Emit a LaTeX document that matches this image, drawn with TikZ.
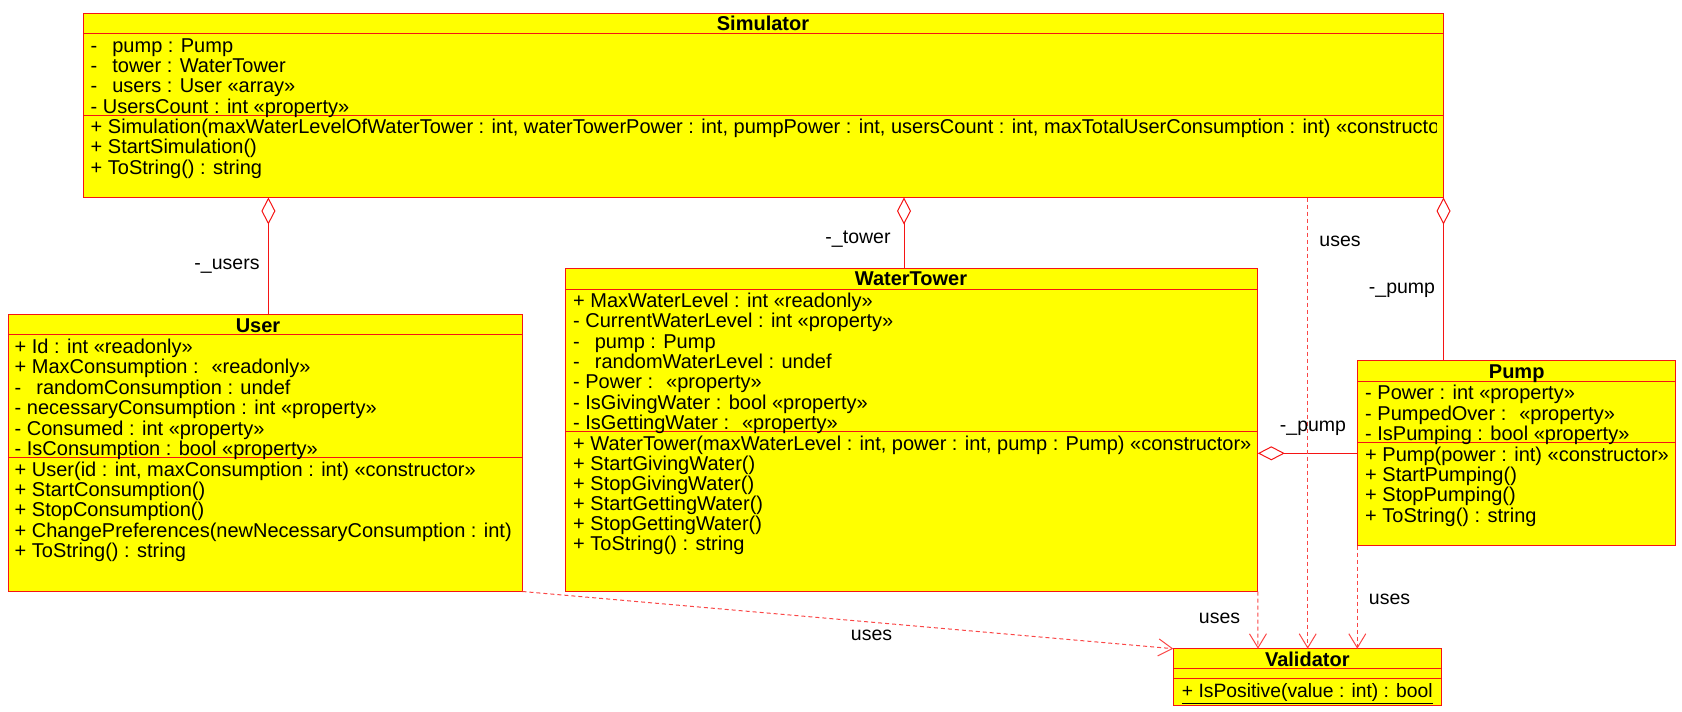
\documentclass[tikz,border=0pt]{standalone}
\usepackage{fontspec}
\setmainfont{Liberation Sans}
\usetikzlibrary{arrows.meta}
\definecolor{umlred}{RGB}{245,20,20}
\definecolor{dashred}{RGB}{250,70,70}
\definecolor{umlyellow}{RGB}{255,255,0}
\tikzset{
  classbox/.style={draw=umlred, fill=umlyellow, line width=1pt, rectangle, inner sep=0pt, outer sep=0pt, anchor=north west},
  sepline/.style={draw=umlred, line width=1pt},
  txt/.style={inner sep=0pt, anchor=base west, font=\fontsize{20}{20}\selectfont},
  ttl/.style={inner sep=0pt, anchor=base, font=\fontsize{20}{20}\selectfont\bfseries},
  lbl/.style={inner sep=0pt, anchor=center, font=\fontsize{19.5}{20}\selectfont},
  agg/.style={draw=umlred, line width=1pt, {Diamond[open, length=27pt, width=14pt, line width=1pt]}-},
  uses/.style={draw=dashred, line width=1pt, dash pattern=on 4pt off 3pt, -{Straight Barb[length=14pt, width=17pt, line width=1pt]}}
}
\newcommand\pgap{-\hspace{15pt}}
\begin{document}
\begin{tikzpicture}[x=1pt,y=-1pt]
\useasboundingbox (0,0) rectangle (1682,712);

% ---------------- Simulator
\node[classbox, minimum width=1360pt, minimum height=184.5pt] (sim) at (83.5,13) {};
\draw[sepline] (83.5,33.3) -- (1443.5,33.3);
\draw[sepline] (83.5,115) -- (1443.5,115);
\node[ttl] (simt) at (763,30.3) {Simulator};
\node[txt] (s1) at (90.5,52) {\pgap pump : Pump};
\node[txt] (s2) at (90.5,72.3) {\pgap tower : WaterTower};
\node[txt] (s3) at (90.5,92.7) {\pgap users : User «array»};
\node[txt] (s4) at (90.5,113) {- UsersCount : int «property»};
\begin{scope}
\clip (83.5,13) rectangle (1436,197.5);
\node[txt] (s5) at (90.5,133.5) {+ Simulation(maxWaterLevelOfWaterTower : int, waterTowerPower : int, pumpPower : int, usersCount : int, maxTotalUserConsumption : int) «constructor»};
\end{scope}
\node[txt] (s6) at (90.5,153.7) {+ StartSimulation()};
\node[txt] (s7) at (90.5,174) {+ ToString() : string};

% ---------------- User
\node[classbox, minimum width=514pt, minimum height=277pt] (user) at (8.5,314.5) {};
\draw[sepline] (8.5,334.7) -- (522.5,334.7);
\draw[sepline] (8.5,457) -- (522.5,457);
\node[ttl] (usert) at (258,332) {User};
\node[txt] (u1) at (14.5,353) {+ Id : int «readonly»};
\node[txt] (u2) at (14.5,373.7) {+ MaxConsumption : \ «readonly»};
\node[txt] (u3) at (14.5,394.3) {\pgap randomConsumption : undef};
\node[txt] (u4) at (14.5,414.7) {- necessaryConsumption : int «property»};
\node[txt] (u5) at (14.5,435.3) {- Consumed : int «property»};
\node[txt] (u6) at (14.5,455.3) {- IsConsumption : bool «property»};
\node[txt] (u7) at (14.5,476.3) {+ User(id : int, maxConsumption : int) «constructor»};
\node[txt] (u8) at (14.5,496.3) {+ StartConsumption()};
\node[txt] (u9) at (14.5,516.3) {+ StopConsumption()};
\node[txt] (u10) at (14.5,537) {+ ChangePreferences(newNecessaryConsumption : int)};
\node[txt] (u11) at (14.5,557) {+ ToString() : string};

% ---------------- WaterTower
\node[classbox, minimum width=692pt, minimum height=323.4pt] (tower) at (565.8,268.3) {};
\draw[sepline] (565.8,289) -- (1257.8,289);
\draw[sepline] (565.8,431.7) -- (1257.8,431.7);
\node[ttl] (towert) at (911,285.3) {WaterTower};
\node[txt] (w1) at (573,307) {+ MaxWaterLevel : int «readonly»};
\node[txt] (w2) at (573,327.7) {- CurrentWaterLevel : int «property»};
\node[txt] (w3) at (573,348.3) {\pgap pump : Pump};
\node[txt] (w4) at (573,368.7) {\pgap randomWaterLevel : undef};
\node[txt] (w5) at (573,388.7) {- Power : \ «property»};
\node[txt] (w6) at (573,409) {- IsGivingWater : bool «property»};
\node[txt] (w7) at (573,429.7) {- IsGettingWater : \ «property»};
\node[txt] (w8) at (573,450.3) {+ WaterTower(maxWaterLevel : int, power : int, pump : Pump) «constructor»};
\node[txt] (w9) at (573,470.3) {+ StartGivingWater()};
\node[txt] (w10) at (573,490.3) {+ StopGivingWater()};
\node[txt] (w11) at (573,510.3) {+ StartGettingWater()};
\node[txt] (w12) at (573,530.3) {+ StopGettingWater()};
\node[txt] (w13) at (573,550.3) {+ ToString() : string};

% ---------------- Pump
\node[classbox, minimum width=318.4pt, minimum height=185pt] (pump) at (1357.3,360.7) {};
\draw[sepline] (1357.3,381.7) -- (1675.7,381.7);
\draw[sepline] (1357.3,442.3) -- (1675.7,442.3);
\node[ttl] (pumpt) at (1516.7,378) {Pump};
\node[txt] (p1) at (1365,399.3) {- Power : int «property»};
\node[txt] (p2) at (1365,420) {- PumpedOver : \ «property»};
\node[txt] (p3) at (1365,440.3) {- IsPumping : bool «property»};
\node[txt] (p4) at (1365,461) {+ Pump(power : int) «constructor»};
\node[txt] (p5) at (1365,481.3) {+ StartPumping()};
\node[txt] (p6) at (1365,501.7) {+ StopPumping()};
\node[txt] (p7) at (1365,522) {+ ToString() : string};

% ---------------- Validator
\node[classbox, minimum width=268.4pt, minimum height=57pt] (val) at (1173.3,648.7) {};
\draw[sepline] (1173.3,668.7) -- (1441.7,668.7);
\draw[sepline] (1173.3,678) -- (1441.7,678);
\node[ttl] (valt) at (1307.3,666) {Validator};
\node[txt, font=\fontsize{19.3}{20}\selectfont] (v1) at (1181.7,697.7) {\underline{+ IsPositive(value : int) : bool}};

% ---------------- connectors
\coordinate (xu) at (268.4,0);
\coordinate (xt) at (904,0);
\coordinate (xs) at (1307.7,0);
\coordinate (xt2) at (1258,0);
\coordinate (xp) at (1357.3,0);
\coordinate (yp) at (0,453.3);

\draw[agg] (xu |- sim.south) -- (xu |- user.north);
\draw[agg] (xt |- sim.south) -- (xt |- tower.north);
\draw[agg] (sim.south east) -- (sim.south east |- pump.north);
\draw[agg] (tower.east |- yp) -- (pump.west |- yp);

\draw[uses] (xs |- sim.south) -- (xs |- val.north);
\draw[uses] (tower.south east) -- (xt2 |- val.north);
\draw[uses] (pump.south west) -- (xp |- val.north);
\draw[uses] (user.south east) -- (val.north west);

% ---------------- labels
\node[lbl] (l1) at (227,265.7) {-\_users};
\node[lbl] (l2) at (858,239) {-\_tower};
\node[lbl] (l3) at (1402,290.7) {-\_pump};
\node[lbl] (l4) at (1313,428.3) {-\_pump};
\node[lbl] (l5) at (1340,241) {uses};
\node[lbl] (l6) at (1219.5,618.3) {uses};
\node[lbl] (l7) at (1389.5,599.3) {uses};
\node[lbl] (l8) at (871.5,635) {uses};
\end{tikzpicture}
\end{document}
